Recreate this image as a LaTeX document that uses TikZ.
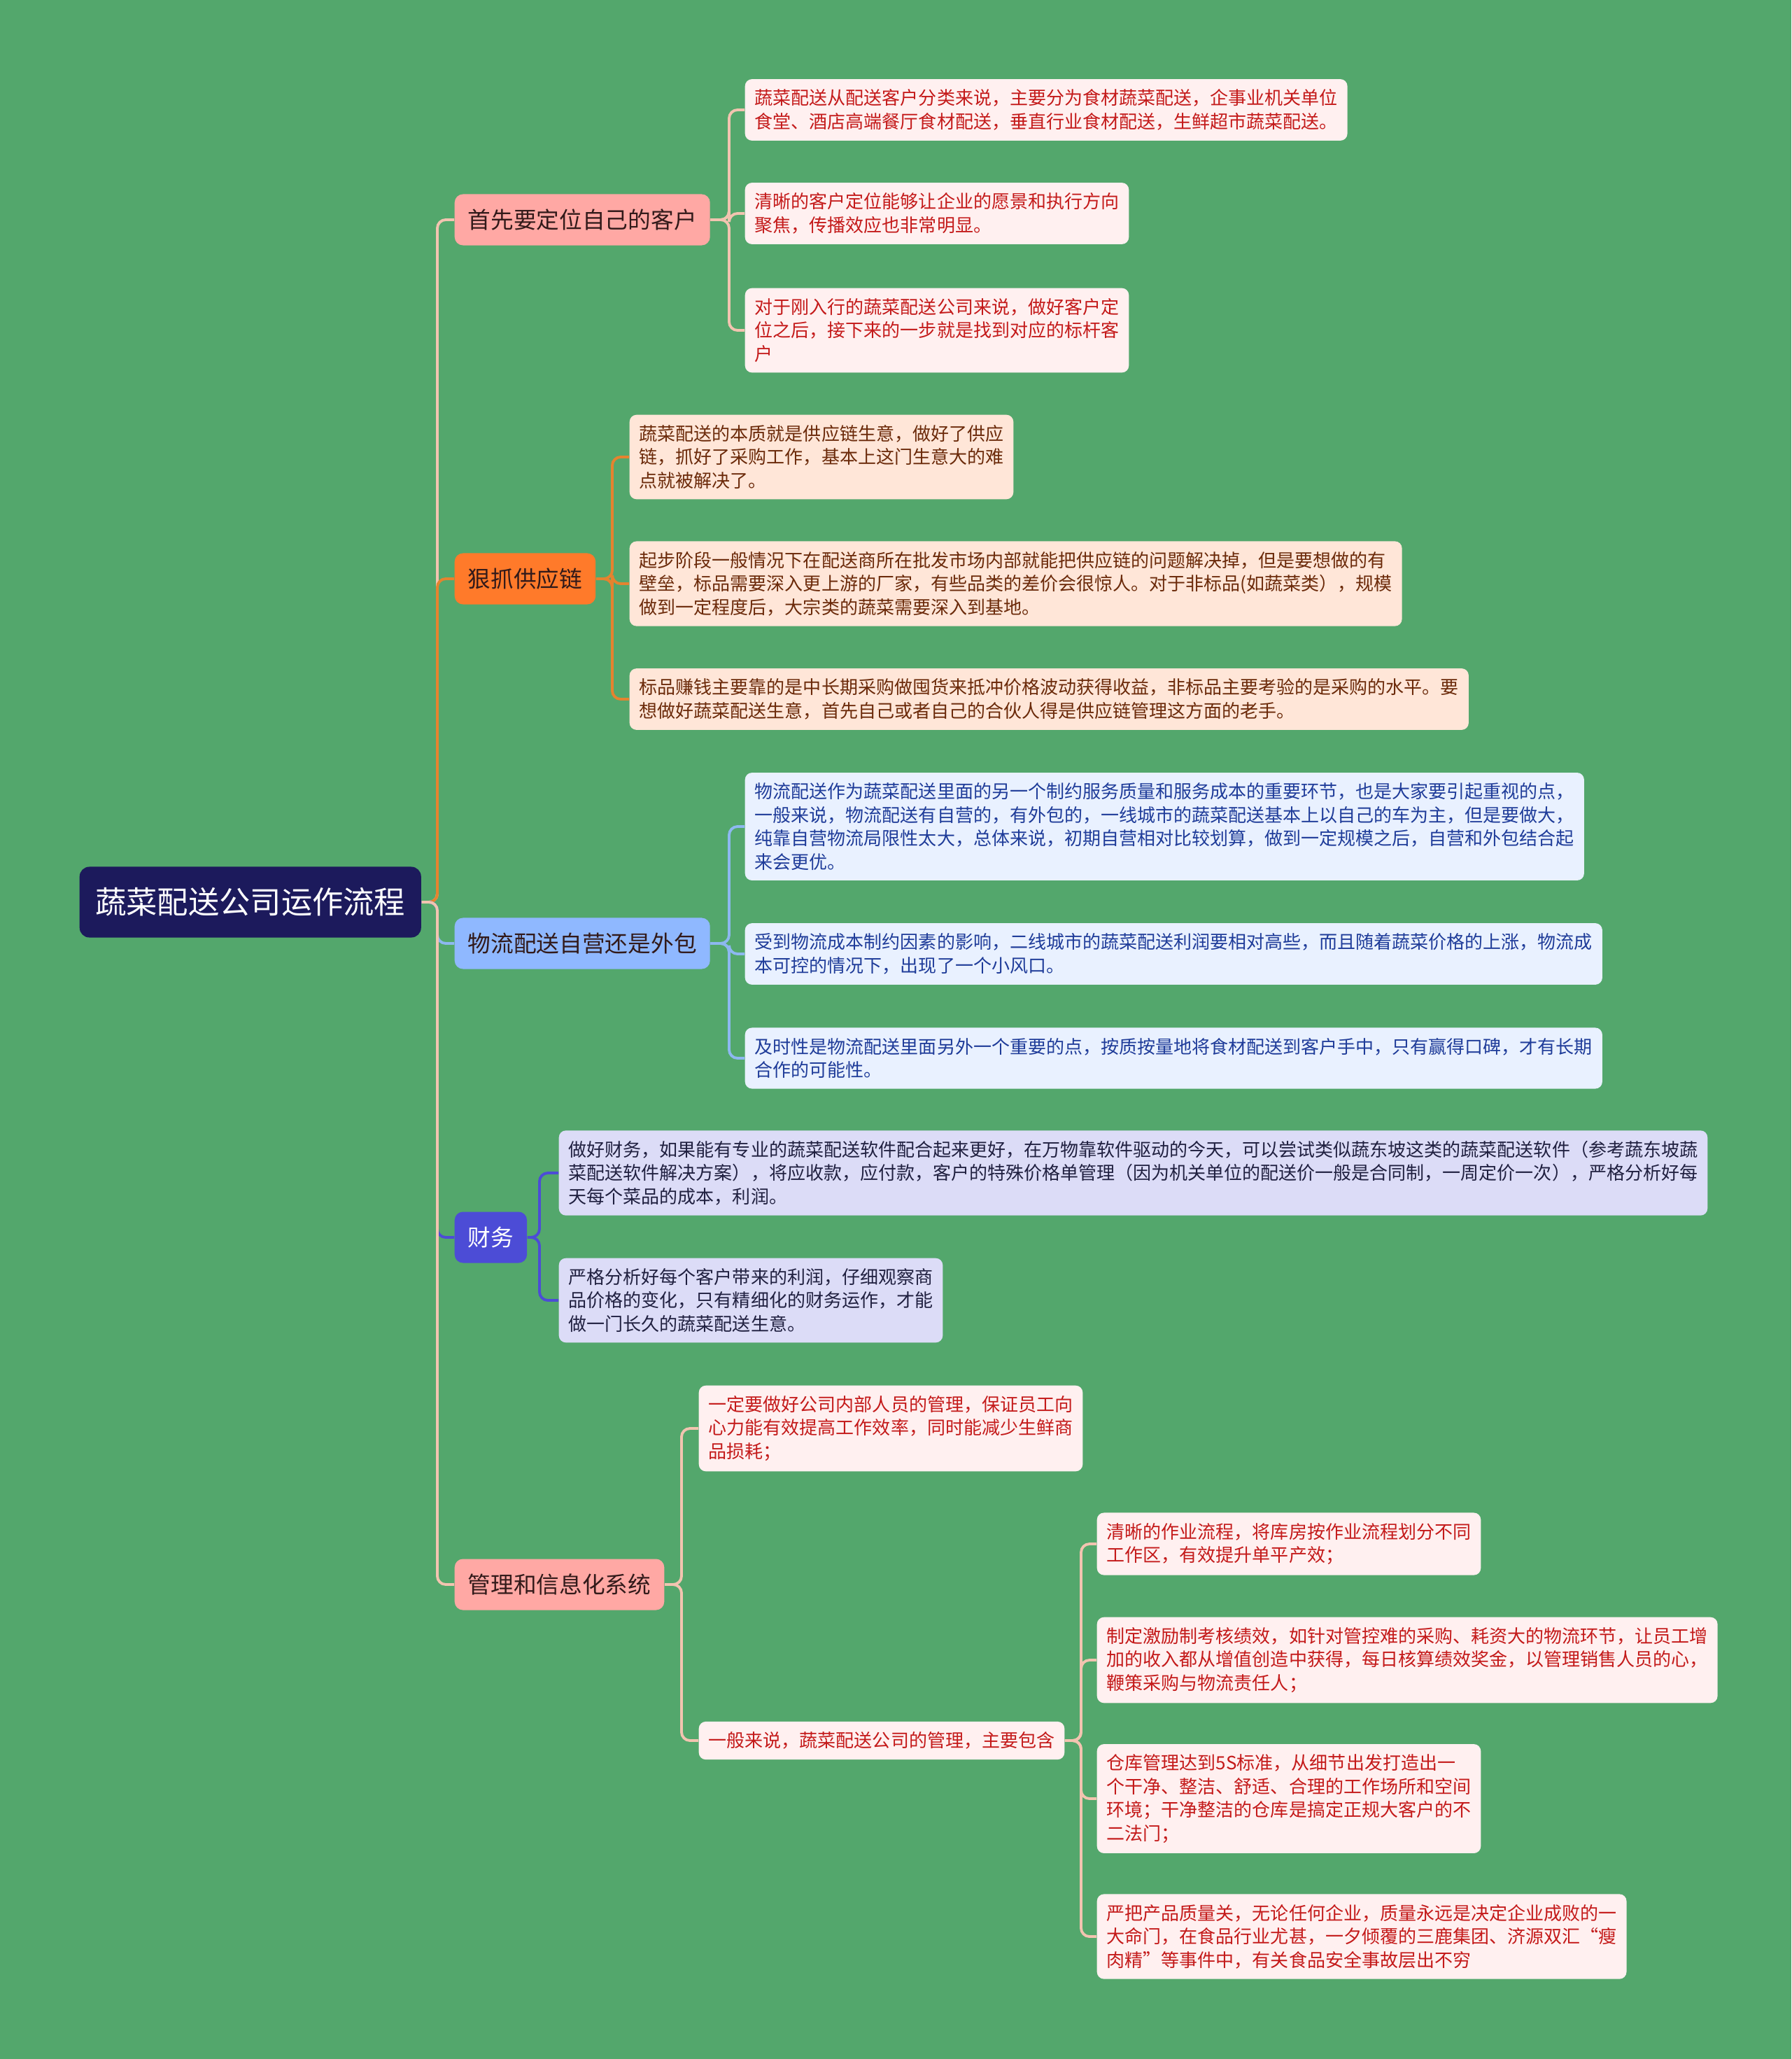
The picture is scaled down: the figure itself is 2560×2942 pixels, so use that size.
\documentclass[tikz,border=0pt]{standalone}
\usepackage{fontspec}
\setmainfont{Noto Sans CJK SC}
\definecolor{BgGreen}{RGB}{83,167,108}
\definecolor{RootNavy}{RGB}{28,26,92}
\definecolor{TopicPink}{RGB}{255,168,164}
\definecolor{TopicOrange}{RGB}{255,122,42}
\definecolor{TopicBlue}{RGB}{143,184,255}
\definecolor{TopicViolet}{RGB}{76,76,214}
\definecolor{TopicText}{RGB}{50,26,26}
\definecolor{LeafPink}{RGB}{255,240,240}
\definecolor{LeafRed}{RGB}{196,26,26}
\definecolor{LeafPeach}{RGB}{255,230,216}
\definecolor{LeafBrown}{RGB}{107,42,10}
\definecolor{LeafBlue}{RGB}{233,241,255}
\definecolor{LeafNavy}{RGB}{31,60,153}
\definecolor{LeafLavender}{RGB}{220,220,247}
\definecolor{LeafInk}{RGB}{32,32,64}
\definecolor{EdgeSalmon}{RGB}{242,196,176}
\definecolor{EdgeOrange}{RGB}{229,131,47}
\definecolor{EdgeBlue}{RGB}{141,184,240}
\definecolor{EdgeViolet}{RGB}{76,76,214}
\usepackage{tikz}
\usetikzlibrary{positioning,calc}

\begin{document}
\begin{tikzpicture}[
      x=0.01cm, y=-0.01cm,
      root/.style={fill=RootNavy, text=white, rounded corners=0.14cm, font=\fontsize{12.6}{15}\selectfont, inner xsep=6.4pt, minimum height=1.01cm, anchor=west},
      topic/.style={rounded corners=0.12cm, text=TopicText, font=\fontsize{9.3}{11}\selectfont, inner xsep=5.4pt, minimum height=0.73cm, anchor=west},
      leaf/.style={rounded corners=0.1cm, align=left, font=\fontsize{7.4}{9.5}\selectfont, inner xsep=4pt, inner ysep=4.2pt, anchor=west},
      pinkleaf/.style={leaf, fill=LeafPink, text=LeafRed},
      peachleaf/.style={leaf, fill=LeafPeach, text=LeafBrown},
      blueleaf/.style={leaf, fill=LeafBlue, text=LeafNavy},
      lavleaf/.style={leaf, fill=LeafLavender, text=LeafInk},
      link/.style={line width=1.1pt, rounded corners=0.12cm}
    ]
      \fill[BgGreen] (0,0) rectangle (2560,2942);
      \useasboundingbox (0,0) rectangle (2560,2942);

      \coordinate (trunk) at (625,0);
      \coordinate (b1) at (1042,0);
      \coordinate (b2) at (875,0);
      \coordinate (b3) at (1042,0);
      \coordinate (b4) at (771,0);
      \coordinate (b5) at (974,0);
      \coordinate (b6) at (1545,0);

      \node[root] (root) at (113,1289) {蔬菜配送公司运作流程};

      \node[topic, fill=TopicPink] (cust) at (649,314) {首先要定位自己的客户};
      \node[topic, fill=TopicOrange] (supply) at (649,827) {狠抓供应链};
      \node[topic, fill=TopicBlue] (logi) at (649,1348) {物流配送自营还是外包};
      \node[topic, fill=TopicViolet, text=white] (fin) at (649,1768) {财务};
      \node[topic, fill=TopicPink] (mgmt) at (649,2264) {管理和信息化系统};

      \node[pinkleaf] (cust1) at (1064,157) {蔬菜配送从配送客户分类来说，主要分为食材蔬菜配送，企事业机关单位\\食堂、酒店高端餐厅食材配送，垂直行业食材配送，生鲜超市蔬菜配送。};
      \node[pinkleaf] (cust2) at (1064,305) {清晰的客户定位能够让企业的愿景和执行方向\\聚焦，传播效应也非常明显。};
      \node[pinkleaf] (cust3) at (1064,472) {对于刚入行的蔬菜配送公司来说，做好客户定\\位之后，接下来的一步就是找到对应的标杆客\\户};

      \node[peachleaf] (sup1) at (899,653) {蔬菜配送的本质就是供应链生意，做好了供应\\链，抓好了采购工作，基本上这门生意大的难\\点就被解决了。};
      \node[peachleaf] (sup2) at (899,834) {起步阶段一般情况下在配送商所在批发市场内部就能把供应链的问题解决掉，但是要想做的有\\壁垒，标品需要深入更上游的厂家，有些品类的差价会很惊人。对于非标品(如蔬菜类），规模\\做到一定程度后，大宗类的蔬菜需要深入到基地。};
      \node[peachleaf] (sup3) at (899,999) {标品赚钱主要靠的是中长期采购做囤货来抵冲价格波动获得收益，非标品主要考验的是采购的水平。要\\想做好蔬菜配送生意，首先自己或者自己的合伙人得是供应链管理这方面的老手。};

      \node[blueleaf] (logi1) at (1064,1181) {物流配送作为蔬菜配送里面的另一个制约服务质量和服务成本的重要环节，也是大家要引起重视的点，\\一般来说，物流配送有自营的，有外包的，一线城市的蔬菜配送基本上以自己的车为主，但是要做大，\\纯靠自营物流局限性太大，总体来说，初期自营相对比较划算，做到一定规模之后，自营和外包结合起\\来会更优。};
      \node[blueleaf] (logi2) at (1064,1363) {受到物流成本制约因素的影响，二线城市的蔬菜配送利润要相对高些，而且随着蔬菜价格的上涨，物流成\\本可控的情况下，出现了一个小风口。};
      \node[blueleaf] (logi3) at (1064,1512) {及时性是物流配送里面另外一个重要的点，按质按量地将食材配送到客户手中，只有赢得口碑，才有长期\\合作的可能性。};

      \node[lavleaf] (fin1) at (798,1676) {做好财务，如果能有专业的蔬菜配送软件配合起来更好，在万物靠软件驱动的今天，可以尝试类似蔬东坡这类的蔬菜配送软件（参考蔬东坡蔬\\菜配送软件解决方案），将应收款，应付款，客户的特殊价格单管理（因为机关单位的配送价一般是合同制，一周定价一次），严格分析好每\\天每个菜品的成本，利润。};
      \node[lavleaf] (fin2) at (798,1858) {严格分析好每个客户带来的利润，仔细观察商\\品价格的变化，只有精细化的财务运作，才能\\做一门长久的蔬菜配送生意。};

      \node[pinkleaf] (mgmt1) at (998,2041) {一定要做好公司内部人员的管理，保证员工向\\心力能有效提高工作效率，同时能减少生鲜商\\品损耗；};
      \node[pinkleaf] (mgmt2) at (998,2487) {一般来说，蔬菜配送公司的管理，主要包含};

      \node[pinkleaf] (incl1) at (1567,2206) {清晰的作业流程，将库房按作业流程划分不同\\工作区，有效提升单平产效；};
      \node[pinkleaf] (incl2) at (1567,2372) {制定激励制考核绩效，如针对管控难的采购、耗资大的物流环节，让员工增\\加的收入都从增值创造中获得，每日核算绩效奖金，以管理销售人员的心，\\鞭策采购与物流责任人；};
      \node[pinkleaf] (incl3) at (1567,2570) {仓库管理达到5S标准，从细节出发打造出一\\个干净、整洁、舒适、合理的工作场所和空间\\环境；干净整洁的仓库是搞定正规大客户的不\\二法门；};
      \node[pinkleaf] (incl4) at (1567,2767) {严把产品质量关，无论任何企业，质量永远是决定企业成败的一\\大命门，在食品行业尤甚，一夕倾覆的三鹿集团、济源双汇“瘦\\肉精”等事件中，有关食品安全事故层出不穷};

      \draw[link, EdgeSalmon] (root.east) -- (root.east -| trunk) |- (cust.west);
      \draw[link, EdgeOrange] (root.east) -- (root.east -| trunk) |- (supply.west);
      \draw[link, EdgeBlue] (root.east) -- (root.east -| trunk) |- (logi.west);
      \draw[link, EdgeViolet] (root.east) -- (root.east -| trunk) |- (fin.west);
      \draw[link, EdgeSalmon] (root.east) -- (root.east -| trunk) |- (mgmt.west);

      \foreach \leaf in {cust1,cust2,cust3}
        \draw[link, EdgeSalmon] (cust.east) -- (cust.east -| b1) |- (\leaf.west);
      \foreach \leaf in {sup1,sup2,sup3}
        \draw[link, EdgeOrange] (supply.east) -- (supply.east -| b2) |- (\leaf.west);
      \foreach \leaf in {logi1,logi2,logi3}
        \draw[link, EdgeBlue] (logi.east) -- (logi.east -| b3) |- (\leaf.west);
      \foreach \leaf in {fin1,fin2}
        \draw[link, EdgeViolet] (fin.east) -- (fin.east -| b4) |- (\leaf.west);
      \foreach \leaf in {mgmt1,mgmt2}
        \draw[link, EdgeSalmon] (mgmt.east) -- (mgmt.east -| b5) |- (\leaf.west);
      \foreach \leaf in {incl1,incl2,incl3,incl4}
        \draw[link, EdgeSalmon] (mgmt2.east) -- (mgmt2.east -| b6) |- (\leaf.west);
    \end{tikzpicture}
\end{document}
